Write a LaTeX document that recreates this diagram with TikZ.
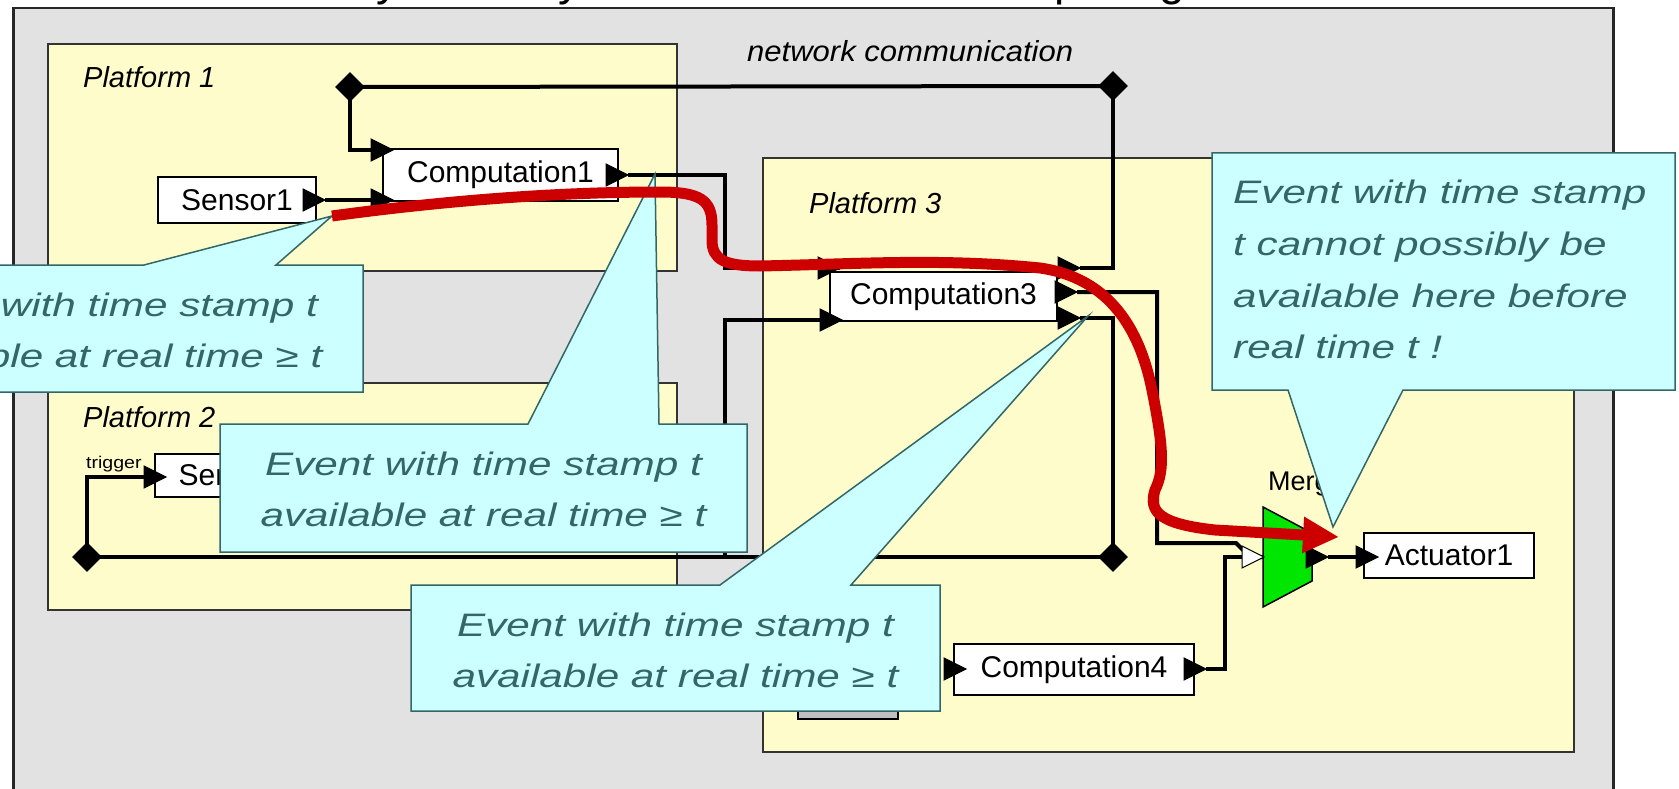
\documentclass[tikz,border=0pt]{standalone}
\usepackage{fontspec}
\setmainfont{Liberation Sans}
\usepackage{graphicx}
\usetikzlibrary{shapes.geometric,arrows.meta}
\definecolor{bggray}{RGB}{226,226,226}
\definecolor{platyel}{RGB}{255,252,204}
\definecolor{callfill}{RGB}{204,255,255}
\definecolor{calldraw}{RGB}{51,102,102}
\definecolor{calltext}{RGB}{51,102,102}
\definecolor{redline}{RGB}{204,0,0}
\definecolor{mergegreen}{RGB}{0,230,0}
\definecolor{delaygray}{RGB}{192,192,192}
\newcommand{\porttri}[2][black]{\filldraw[fill=#1,draw=black,line width=1pt,line join=miter] (#2) ++(-22,-11) -- (#2) -- ++(-22,11) -- cycle;}
\begin{document}
\begin{tikzpicture}[x=1pt,y=-1pt,
  platform/.style={fill=platyel,draw=black!80,line width=2pt,inner sep=0pt,anchor=north west},
  actor/.style={draw=black,fill=white,line width=2.5pt,inner sep=0pt,font=\fontsize{30}{36}\selectfont},
  wire/.style={line width=4pt,line join=miter},
  junction/.style={diamond,fill=black,inner sep=0pt,minimum width=30pt,minimum height=30pt},
  callout/.style={fill=callfill,draw=calldraw,line width=1.5pt,line join=miter},
  ctext/.style={text=calltext,font=\fontsize{32.5}{40}\selectfont\itshape,inner sep=0pt,anchor=base},
  plabel/.style={font=\fontsize{29}{34}\selectfont\itshape,inner sep=0pt,anchor=base west},
]
\useasboundingbox (0,0) rectangle (1679,789);

% title fragments (cut off at top)
\begin{scope}
\clip (0,0) rectangle (1679,7);
\node[anchor=base,inner sep=0pt,font=\fontsize{46}{50}\selectfont] (ty1) at (388,-4) {y};
\node[anchor=base,inner sep=0pt,font=\fontsize{46}{50}\selectfont] (ty2) at (570,-4) {y};
\node[anchor=base west,inner sep=0pt,font=\fontsize{46}{50}\selectfont] (tp) at (1054,-4) {p};
\node[anchor=base,inner sep=0pt,font=\fontsize{46}{50}\selectfont] (tg) at (1172,-4) {g};
\end{scope}

% background
\node[fill=bggray,draw=black!85,line width=2.5pt,inner sep=0pt,anchor=north west,minimum width=1600pt,minimum height=820pt] (bg) at (12,7) {};

% platforms
\node[platform,minimum width=629pt,minimum height=227pt] (p1) at (47,43) {};
\node[platform,minimum width=629pt,minimum height=227pt] (p2) at (47,382) {};
\node[platform,minimum width=811pt,minimum height=594pt] (p3) at (762,157) {};

\node[plabel] (p1l) at (83,88) {Platform 1};
\node[plabel] (p2l) at (83,427) {Platform 2};
\node[plabel] (p3l) at (809,213) {Platform 3};
\node[plabel] (net) at (747,62) {\scalebox{1.07}[1]{network communication}};
\node[anchor=base west,inner sep=0pt,font=\fontsize{17}{20}\selectfont] (trig) at (86,468) {\scalebox{1.15}[1]{trigger}};
\node[anchor=base west,inner sep=0pt,font=\fontsize{27}{30}\selectfont] (mlab) at (1268,490) {Merge};

% port coordinates
\coordinate (s1o) at (325,200);
\coordinate (c1iT) at (393,150);
\coordinate (c1iB) at (393,200);
\coordinate (c1o) at (628,175);
\coordinate (c3iT) at (840,268);
\coordinate (c3iB) at (842,320);
\coordinate (c3oT) at (1080,268);
\coordinate (c3oM) at (1077,292);
\coordinate (c3oB) at (1080,318);
\coordinate (mi) at (1264,557);
\coordinate (mo) at (1328,557);
\coordinate (ai) at (1378,557);
\coordinate (c4i) at (966,669);
\coordinate (c4o) at (1206,669);
\coordinate (s2i) at (166,477);

% junctions
\node[junction] (j1) at (350,87) {};
\node[junction] (j2) at (1113,86) {};
\node[junction] (j3) at (1113,557) {};
\node[junction] (j4) at (87,557) {};

% wires
\draw[wire] (j1.center) -- (j2.center);
\draw[wire] (j1.center) |- (c1iT);
\draw[wire] (s1o) -- (c1iB);
\draw[wire] (c1o) -- ++(97,0) |- (c3iT);
\draw[wire] (j2.center) |- (c3oT);
\draw[wire] (c3oB) -| (j3.center);
\draw[wire] (j4.center) -- (j3.center);
\draw[wire] (j4.center) |- (s2i);
\draw[wire] (c3iB) -- ++(-117,0) -- ++(0,237);
\draw[wire] (c3oM) -- ++(80,0) -- ++(0,251) -- ++(79,0) -- ++(14,14) -- (mi);
\draw[wire] (c4o) -- ++(19,0) |- (mi);
\draw[wire] (mo) -- (ai);

% actors
\node[actor,minimum width=158pt,minimum height=46pt] (sensor1) at (237,200) {Sensor1};
\node[actor,minimum width=235pt,minimum height=52pt] (comp1) at (500.5,175) {Computation1};
\node[actor,minimum width=227pt,minimum height=49pt] (comp3) at (943.5,296.5) {Computation3};
\node[actor,minimum width=240pt,minimum height=51pt] (comp4) at (1074,669.5) {Computation4};
\node[actor,minimum width=170pt,minimum height=45pt] (act1) at (1449,555.5) {Actuator1};
\node[actor,minimum width=159pt,minimum height=43pt] (sensor2) at (234.5,475.5) {Sensor2};
\node[draw=black,fill=delaygray,line width=2pt,inner sep=0pt,minimum width=100pt,minimum height=69pt] (delay) at (848,684.5) {};

% merge
\filldraw[fill=mergegreen,draw=black,line width=1.5pt,line join=miter] (1263,507) -- (1312,533) -- (1312,581) -- (1263,607) -- cycle;

% ports
\porttri{s1o}
\porttri{c1iT}
\porttri{c1iB}
\porttri{c1o}
\porttri{c3iT}
\porttri{c3iB}
\porttri{c3oT}
\porttri{c3oM}
\porttri{c3oB}
\porttri[white]{mi}
\porttri{mo}
\porttri{ai}
\porttri{c4i}
\porttri{c4o}
\porttri{s2i}

% callouts
\filldraw[callout] (-170,265) -- (144,265) -- (332,216) -- (276,265) -- (363,265) -- (363,392) -- (-170,392) -- cycle;
\node[ctext] (c1a) at (99.5,316) {\scalebox{1.3}[1]{Event with time stamp t}};
\node[ctext] (c1b) at (99.5,367) {\scalebox{1.3}[1]{available at real time ≥ t}};

\filldraw[callout] (220,424) -- (528,424) -- (655,174) -- (659,424) -- (747,424) -- (747,552) -- (220,552) -- cycle;
\node[ctext] (c2a) at (483.5,475) {\scalebox{1.3}[1]{Event with time stamp t}};
\node[ctext] (c2b) at (483.5,526) {\scalebox{1.3}[1]{available at real time ≥ t}};

\filldraw[callout] (411,585) -- (720,585) -- (1088,316) -- (851,585) -- (940,585) -- (940,711) -- (411,711) -- cycle;
\node[ctext] (c3a) at (675.5,636) {\scalebox{1.3}[1]{Event with time stamp t}};
\node[ctext] (c3b) at (675.5,687) {\scalebox{1.3}[1]{available at real time ≥ t}};

\filldraw[callout] (1212,153) -- (1675,153) -- (1675,390) -- (1403,390) -- (1333,527) -- (1288,390) -- (1212,390) -- cycle;
\node[ctext,anchor=base west] (c4a) at (1233,203) {\scalebox{1.3}[1]{Event with time stamp}};
\node[ctext,anchor=base west] (c4b) at (1233,255) {\scalebox{1.3}[1]{t cannot possibly be}};
\node[ctext,anchor=base west] (c4c) at (1233,307) {\scalebox{1.3}[1]{available here before}};
\node[ctext,anchor=base west] (c4d) at (1233,358) {\scalebox{1.3}[1]{real time t !}};

% red event path
\draw[redline,line width=11pt,-{Triangle[length=36pt,width=34pt]}]
  (332,216) .. controls (450,200) and (560,192) .. (660,192)
  .. controls (700,192) and (712,200) .. (712,225) -- (712,240)
  .. controls (712,260) and (725,266) .. (760,266)
  .. controls (860,264) and (940,258) .. (1040,268)
  .. controls (1110,278) and (1140,330) .. (1152,390)
  .. controls (1163,445) and (1165,470) .. (1155,490)
  .. controls (1148,512) and (1160,524) .. (1215,530)
  -- (1339,537);
\end{tikzpicture}
\end{document}
